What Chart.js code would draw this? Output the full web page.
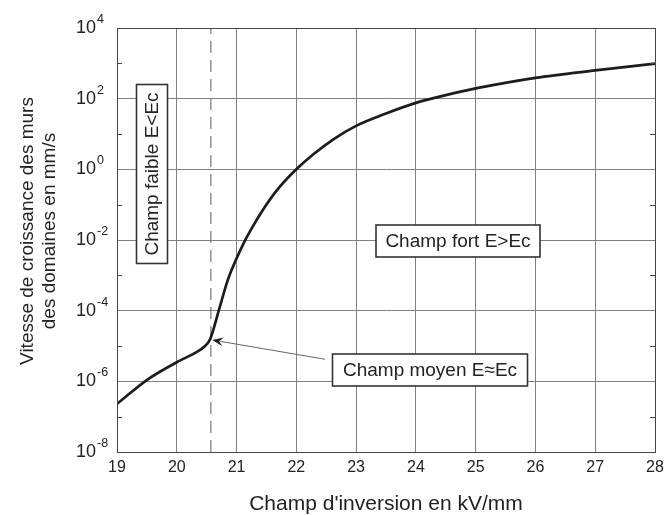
<!DOCTYPE html>
<html>
<head>
<meta charset="utf-8">
<script src="https://cdn.jsdelivr.net/npm/chart.js@4.4.1/dist/chart.umd.min.js"></script>
<style>
  html, body { margin: 0; padding: 0; background: #fff; }
  canvas { display: block; }
</style>
</head>
<body>
<canvas id="chart" width="670" height="515"></canvas>
<script>
// champ d'inversion (kV/mm) et vitesse des murs (mm/s)
const fieldValues = [19, 19.51, 20, 20.3, 20.46, 20.56, 20.71, 20.85, 20.99, 21.13, 21.27, 21.44, 21.67, 22, 22.28, 22.62, 23, 23.5, 24, 24.5, 25, 26, 27, 28];
const speedValues = [2.3e-7, 1.12e-6, 3.47e-6, 6.3e-6, 9.5e-6, 1.58e-5, 1.12e-4, 7.1e-4, 2.75e-3, 8.9e-3, 2.4e-2, 7.1e-2, 0.25, 1.0, 2.63, 7.1, 17, 38, 76, 126, 195, 389, 631, 977];

// champ critique Ec (ligne pointillée)
const ecField = 20.57;

const xTickValues = [19, 20, 21, 22, 23, 24, 25, 26, 27, 28];
const yExponents = [-8, -7, -6, -5, -4, -3, -2, -1, 0, 1, 2, 3, 4];
const yMin = 1e-8, yMax = 1e4;

const xTitle = "Champ d'inversion en kV/mm";
const yTitle = ['Vitesse de croissance des murs', 'des domaines en mm/s'];

const FONT = '"Liberation Sans", Arial, Helvetica, sans-serif';
Chart.defaults.font.family = FONT;

// textes encadrés (position en unités du graphe)
const notes = [
  { text: 'Champ faible E<Ec', x: 19.58, y: Math.pow(10, -0.13), w: 31, h: 179, vertical: true },
  { text: 'Champ fort E>Ec', x: 24.70, y: Math.pow(10, -2.04), w: 164, h: 32 },
  { text: 'Champ moyen E\u2248Ec', x: 24.24, y: Math.pow(10, -5.69), w: 195, h: 32 }
];
const arrowFrom = { x: 22.48, y: Math.pow(10, -5.375) };
const arrowTo = { x: fieldValues[5], y: speedValues[5] };

function line(ctx, x1, y1, x2, y2) {
  ctx.beginPath();
  ctx.moveTo(x1, y1);
  ctx.lineTo(x2, y2);
  ctx.stroke();
}

const decor = {
  id: 'decor',
  afterDatasetsDraw(chart) {
    const { ctx, chartArea: a, scales: { x, y } } = chart;
    ctx.save();

    // petites graduations (puissances impaires)
    ctx.strokeStyle = '#444';
    ctx.lineWidth = 1;
    yExponents.forEach(e => {
      if (e % 2 === 0) return;
      const py = Math.round(y.getPixelForValue(Math.pow(10, e))) + 0.5;
      line(ctx, a.left, py, a.left + 5, py);
      line(ctx, a.right - 5, py, a.right, py);
    });

    // cadre
    ctx.strokeStyle = '#444';
    ctx.strokeRect(Math.round(a.left) + 0.5, Math.round(a.top) + 0.5,
      Math.round(a.right - a.left), Math.round(a.bottom - a.top));

    // étiquettes 10^n
    ctx.fillStyle = '#222';
    yExponents.filter(e => e % 2 === 0).forEach(e => {
      const py = y.getPixelForValue(Math.pow(10, e));
      ctx.font = '18px ' + FONT;
      ctx.textAlign = 'right';
      ctx.textBaseline = 'middle';
      ctx.fillText('10', a.left - 21, py);
      ctx.font = '12.5px ' + FONT;
      ctx.textAlign = 'left';
      ctx.fillText(String(e), a.left - 20, py - 8.5);
    });

    // titre de l'axe y
    ctx.save();
    ctx.translate(0, 231);
    ctx.rotate(-Math.PI / 2);
    ctx.font = '19px ' + FONT;
    ctx.textAlign = 'center';
    ctx.textBaseline = 'middle';
    ctx.fillText(yTitle[0], 0, 28);
    ctx.fillText(yTitle[1], 0, 50);
    ctx.restore();

    // flèche vers le coude
    const sx = x.getPixelForValue(arrowFrom.x), sy = y.getPixelForValue(arrowFrom.y);
    const tx = x.getPixelForValue(arrowTo.x) + 2, ty = y.getPixelForValue(arrowTo.y) + 1;
    const ang = Math.atan2(ty - sy, tx - sx);
    ctx.strokeStyle = '#666';
    ctx.lineWidth = 1;
    line(ctx, sx, sy, tx - 8 * Math.cos(ang), ty - 8 * Math.sin(ang));
    ctx.fillStyle = '#222';
    ctx.beginPath();
    ctx.moveTo(tx, ty);
    ctx.lineTo(tx - 11 * Math.cos(ang) + 4.5 * Math.sin(ang), ty - 11 * Math.sin(ang) - 4.5 * Math.cos(ang));
    ctx.lineTo(tx - 7 * Math.cos(ang), ty - 7 * Math.sin(ang));
    ctx.lineTo(tx - 11 * Math.cos(ang) - 4.5 * Math.sin(ang), ty - 11 * Math.sin(ang) + 4.5 * Math.cos(ang));
    ctx.closePath();
    ctx.fill();

    // encadrés
    notes.forEach(n => {
      const cx = x.getPixelForValue(n.x), cy = y.getPixelForValue(n.y);
      ctx.save();
      ctx.translate(Math.round(cx), Math.round(cy));
      if (n.vertical) ctx.rotate(-Math.PI / 2);
      const w = n.vertical ? n.h : n.w, h = n.vertical ? n.w : n.h;
      ctx.fillStyle = '#fff';
      ctx.fillRect(-w / 2, -h / 2, w, h);
      ctx.strokeStyle = '#333';
      ctx.lineWidth = 1.6;
      ctx.strokeRect(-w / 2, -h / 2, w, h);
      ctx.fillStyle = '#222';
      ctx.font = '19px ' + FONT;
      ctx.textAlign = 'center';
      ctx.textBaseline = 'middle';
      ctx.fillText(n.text, 0, 1);
      ctx.restore();
    });

    ctx.restore();
  }
};

new Chart(document.getElementById('chart'), {
  type: 'scatter',
  data: {
    datasets: [
      {
        data: fieldValues.map((v, i) => ({ x: v, y: speedValues[i] })),
        showLine: true,
        borderColor: '#1c1c1c',
        borderWidth: 2.7,
        pointRadius: 0,
        cubicInterpolationMode: 'monotone'
      },
      {
        data: [{ x: ecField, y: yMin }, { x: ecField, y: yMax }],
        showLine: true,
        borderColor: '#777',
        borderWidth: 1.2,
        borderDash: [12, 7],
        pointRadius: 0
      }
    ]
  },
  options: {
    responsive: false,
    animation: false,
    devicePixelRatio: 1,
    layout: { padding: { left: 0, top: 28, right: 15, bottom: 0 } },
    plugins: { legend: { display: false }, tooltip: { enabled: false } },
    scales: {
      x: {
        type: 'linear',
        min: 19,
        max: 28,
        afterBuildTicks: s => { s.ticks = xTickValues.map(v => ({ value: v })); },
        afterFit: s => { s.height = 63; },
        ticks: { autoSkip: false, maxRotation: 0, padding: 6, color: '#222', font: { size: 16 } },
        grid: { color: '#808080', lineWidth: 1, drawTicks: false },
        border: { color: '#444', width: 1 },
        title: { display: true, text: xTitle, color: '#222', font: { size: 21, lineHeight: 1 }, padding: 0 }
      },
      y: {
        type: 'logarithmic',
        min: yMin,
        max: yMax,
        afterBuildTicks: s => { s.ticks = yExponents.map(e => ({ value: Math.pow(10, e) })); },
        afterFit: s => { s.width = 117; },
        ticks: { display: false },
        grid: {
          drawTicks: false,
          lineWidth: 1,
          color: c => (Math.round(Math.log10(c.tick.value)) % 2 === 0 ? '#808080' : 'rgba(0,0,0,0)')
        },
        border: { color: '#444', width: 1 }
      }
    }
  },
  plugins: [decor]
});
</script>
</body>
</html>
